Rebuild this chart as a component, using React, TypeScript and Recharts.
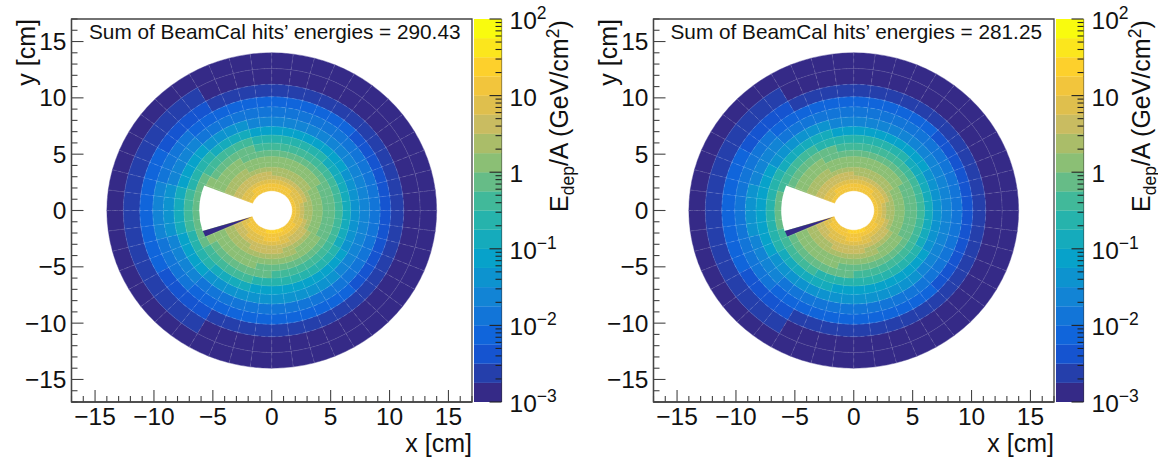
import React from 'react';
import { ScatterChart, Scatter, XAxis, YAxis, ReferenceArea } from 'recharts';

const PLOT_W = 400.5;
const PLOT_H = 383;
const BAR_W = 27.5;
const kx = PLOT_W / 34;
const ky = PLOT_H / 34;
const FONT = '"Liberation Sans", Arial, sans-serif';
const INK = '#111';
const FRAME = '#444';

// Ring edges of the calorimeter, in cm, outer to inner
const ringEdges = [14, 12.6, 11.2, 10.1, 9.2, 8.3, 7.45, 6.7, 6.0, 5.35, 4.8, 4.3, 3.85, 3.45, 3.1, 2.75, 2.4, 2.05, 1.75];

// Colour band for each ring (rows) and each 15 degree sector (columns)
const leftBands = [
  [0,0,0,0,0,0,0,0,0,0,0,0,0,0,0,0,0,0,0,0,0,0,0,0],
  [0,0,0,0,0,0,0,0,1,1,1,1,1,1,1,1,0,0,0,0,0,0,0,0],
  [1,1,1,1,1,1,1,1,2,2,3,3,3,3,2,2,1,1,1,1,1,1,1,1],
  [2,2,2,3,3,3,3,3,3,4,4,5,5,4,4,3,3,3,3,3,3,2,2,2],
  [4,4,4,4,4,4,4,4,4,5,5,6,6,5,5,4,4,4,4,4,4,4,4,4],
  [5,5,5,5,5,5,5,6,6,7,7,8,8,7,7,6,6,6,6,6,6,5,5,5],
  [6,6,7,7,7,7,7,8,8,9,9,10,10,9,9,8,8,7,7,7,7,7,6,6],
  [8,8,8,9,9,9,9,10,10,10,11,11,11,11,10,10,10,9,9,9,9,9,8,8],
  [10,10,10,10,10,10,10,11,11,11,12,12,12,12,11,11,11,11,10,10,10,10,10,10],
  [11,11,11,11,11,11,11,11,12,12,12,12,12,12,12,12,12,11,11,11,11,11,11,11],
  [11,11,12,12,12,12,12,12,12,12,12,12,12,12,12,12,12,12,12,12,12,12,11,11],
  [12,12,12,12,12,12,12,12,13,13,13,13,13,13,13,13,13,13,13,13,12,12,12,12],
  [12,12,13,13,13,13,13,13,13,13,13,13,13,13,13,13,14,14,14,13,13,13,12,12],
  [13,13,13,13,13,13,14,14,14,14,14,14,14,14,14,14,14,14,14,14,14,14,13,13],
  [13,14,14,14,14,14,14,14,14,14,14,14,14,14,14,15,15,15,15,15,14,14,14,13],
  [14,15,15,15,15,15,15,15,15,15,15,15,15,15,15,15,15,16,16,15,15,15,15,14],
  [15,15,15,16,16,16,16,16,16,15,15,15,15,15,16,16,16,16,16,16,16,16,15,15],
  [16,16,16,16,16,16,16,16,16,16,16,16,16,16,16,16,16,17,17,17,16,16,16,16],
];
const rightBands = [
  [0,0,0,0,0,0,0,0,0,0,0,0,0,0,0,0,0,0,0,0,0,0,0,0],
  [0,0,0,0,0,0,0,0,1,1,1,1,1,1,1,1,0,0,0,0,0,0,0,0],
  [1,1,1,1,1,1,1,1,2,2,3,3,3,3,2,2,1,1,1,1,1,1,1,1],
  [2,2,2,3,3,3,3,3,3,4,4,4,4,4,4,3,3,3,3,3,3,2,2,2],
  [4,4,4,4,4,4,4,4,4,5,5,6,6,5,5,4,4,4,4,4,4,4,4,4],
  [5,5,5,5,5,5,5,6,6,6,7,7,7,7,6,6,6,6,6,6,6,5,5,5],
  [6,6,7,7,7,7,7,8,8,8,9,9,9,9,8,8,8,7,7,7,7,7,6,6],
  [8,8,8,9,9,9,9,9,10,10,10,11,11,10,10,10,9,9,9,9,9,9,8,8],
  [10,10,10,10,10,10,10,11,11,11,11,12,12,11,11,11,11,11,10,10,10,10,10,10],
  [11,11,11,11,11,11,11,11,12,12,12,12,12,12,12,12,12,11,11,11,11,11,11,11],
  [11,11,12,12,12,12,12,12,12,12,12,12,12,12,12,12,12,12,12,12,12,12,11,11],
  [12,12,12,12,12,12,12,12,13,13,13,13,13,13,13,13,13,13,13,13,12,12,12,12],
  [12,12,13,13,13,13,13,13,13,13,13,13,13,13,13,13,14,14,14,13,13,13,12,12],
  [13,13,13,13,13,13,14,14,14,14,14,14,14,14,14,14,14,14,14,14,14,14,13,13],
  [13,14,14,14,14,14,14,14,14,14,14,14,14,14,14,15,15,15,15,15,14,14,14,13],
  [14,15,15,15,15,15,15,15,15,15,15,15,15,15,15,15,15,16,16,15,15,15,15,14],
  [15,15,15,16,16,16,16,16,16,15,15,15,15,15,16,16,16,16,16,16,16,16,15,15],
  [16,16,16,16,16,16,16,16,16,16,16,16,16,16,16,16,16,17,17,17,16,16,16,16],
];

const palette = ['#352a87','#253fab','#1554d0','#1065db','#1275d8','#1284d5','#0d93cf','#07a2ca','#15abbc','#26b3ac','#41b99a','#66bc87','#8bbf75','#aabd69','#c9bc61','#dfbf4d','#f2c53c','#fdd02c','#fbe61d','#f9fb0e'];
// Centre value of each colour-bar band, bottom to top
const zBandCenters = [0.00133, 0.00237, 0.00422, 0.0075, 0.0133, 0.0237, 0.0422, 0.075, 0.133, 0.237, 0.422, 0.75, 1.33, 2.37, 4.22, 7.5, 13.3, 23.7, 42.2, 75];

const axisTicks = [-17,-16,-15,-14,-13,-12,-11,-10,-9,-8,-7,-6,-5,-4,-3,-2,-1,0,1,2,3,4,5,6,7,8,9,10,11,12,13,14,15,16,17];
const zTicks = [0.001,0.002,0.003,0.004,0.005,0.006,0.007,0.008,0.009,0.01,0.02,0.03,0.04,0.05,0.06,0.07,0.08,0.09,0.1,0.2,0.3,0.4,0.5,0.6,0.7,0.8,0.9,1,2,3,4,5,6,7,8,9,10,20,30,40,50,60,70,80,90,100];
const zDecades: Record<string, string | null> = { '0.001': '\u22123', '0.01': '\u22122', '0.1': '\u22121', '1': null, '10': null, '100': '2' };

// Dead wedge and the dark sliver beneath it
const wedge = { r0: 0, r1: 6.15, a0: 158.9, a1: 197.2 };
const sliverX = [-1.72, -5.85, -5.64];
const sliverY = [-0.57, -1.81, -2.3];

const SECTOR_DEG = 15;
const SUBCELLS = [0, 1];

const polar = (r: number, deg: number) => ({ x: r * Math.cos((deg * Math.PI) / 180), y: r * Math.sin((deg * Math.PI) / 180) });

function makeCells(bands: number[][]) {
  const out: any[] = [];
  bands.forEach((row, ri) => {
    row.forEach((band, si) => {
      SUBCELLS.forEach((sub) => {
        const a0 = si * SECTOR_DEG + (sub * SECTOR_DEG) / 2;
        const a1 = a0 + SECTOR_DEG / 2;
        const r1 = ringEdges[ri];
        const r0 = ringEdges[ri + 1];
        const c = polar((r0 + r1) / 2, (a0 + a1) / 2);
        out.push({ x: c.x, y: c.y, r0, r1, a0, a1, band });
      });
    });
  });
  return out;
}

function sectorPath(d: any, cx: number, cy: number) {
  const ox = cx - d.x * kx;
  const oy = cy + d.y * ky;
  const p = (r: number, a: number) => {
    const q = polar(r, a);
    return `${(ox + q.x * kx).toFixed(2)} ${(oy - q.y * ky).toFixed(2)}`;
  };
  const outer = `M${p(d.r1, d.a0)} A${d.r1 * kx} ${d.r1 * ky} 0 0 0 ${p(d.r1, d.a1)}`;
  const inner = d.r0 > 0 ? `L${p(d.r0, d.a1)} A${d.r0 * kx} ${d.r0 * ky} 0 0 1 ${p(d.r0, d.a0)}` : `L${ox} ${oy}`;
  return `${outer} ${inner} Z`;
}

const CellShape = (props: any) => {
  const { cx, cy, payload } = props;
  const path = sectorPath(payload, cx, cy);
  const fill = palette[payload.band];
  return <path d={path} fill={fill} stroke={fill} strokeWidth={0.4} />;
};
const CellGrid = (props: any) => {
  const { cx, cy, payload } = props;
  const outerWeight = payload.r0 > 7 ? 0.16 : payload.r0 > 4.5 ? 0.1 : 0.05;
  return (
    <path d={sectorPath(payload, cx, cy)} fill="none" stroke="#ffffff" strokeOpacity={outerWeight} strokeWidth={0.6} strokeDasharray="4 3" />
  );
};
const WedgeShape = (props: any) => {
  const { cx, cy, payload } = props;
  return <path d={sectorPath(payload, cx, cy)} fill="#ffffff" />;
};
const SliverShape = (props: any) => {
  const { cx, cy, payload } = props;
  const pts = payload.xs.map((v: number, i: number) => {
    const px = cx + (v - payload.x) * kx;
    const py = cy - (payload.ys[i] - payload.y) * ky;
    return `${px},${py}`;
  });
  return <polygon points={pts.join(' ')} fill={palette[0]} />;
};
const BandShape = (props: any) => {
  const { cx, cy, payload } = props;
  const h = PLOT_H / zBandCenters.length;
  return <rect x={cx - BAR_W / 2} y={cy - h / 2} width={BAR_W} height={h} fill={palette[payload.band]} stroke={palette[payload.band]} strokeWidth={0.2} />;
};

const XTick = ({ x, y, payload }: any) => {
  const v = payload.value;
  const major = v % 5 === 0;
  return (
    <g>
      <line x1={x} x2={x} y1={y} y2={y - (major ? 12 : 6)} stroke={FRAME} strokeWidth={1.1} />
      {major ? (
        <text x={x} y={y + 23} textAnchor="middle" fontFamily={FONT} fontSize={24.5} fill={INK}>
          {v < 0 ? `\u2212${-v}` : v}
        </text>
      ) : null}
    </g>
  );
};
const YTick = ({ x, y, payload }: any) => {
  const v = payload.value;
  const major = v % 5 === 0;
  return (
    <g>
      <line x1={x} x2={x + (major ? 12 : 6)} y1={y} y2={y} stroke={FRAME} strokeWidth={1.1} />
      {major ? (
        <text x={x - 5} y={y + 8.5} textAnchor="end" fontFamily={FONT} fontSize={24.5} fill={INK}>
          {v < 0 ? `\u2212${-v}` : v}
        </text>
      ) : null}
    </g>
  );
};
const ZTick = ({ x, y, payload }: any) => {
  const key = String(payload.value);
  const major = key in zDecades;
  const sup = zDecades[key];
  const plain = payload.value === 1 ? '1' : '10';
  return (
    <g>
      <line x1={x} x2={x - (major ? 12 : 6)} y1={y} y2={y} stroke="#222" strokeWidth={1.1} />
      {major ? (
        <text x={x + 8} y={y + 10} fontFamily={FONT} fontSize={24.5} fill={INK}>
          {plain}
          {sup ? (
            <tspan dy={-10} fontSize={17.5}>
              {sup}
            </tspan>
          ) : null}
        </text>
      ) : null}
    </g>
  );
};

const XTitle = () => (
  <text x={472} y={452} textAnchor="end" fontFamily={FONT} fontSize={25} fill={INK}>
    x [cm]
  </text>
);
const YTitle = () => (
  <text transform="translate(35,19) rotate(-90)" textAnchor="end" fontFamily={FONT} fontSize={25} fill={INK}>
    y [cm]
  </text>
);
const ZTitle = () => (
  <text transform="translate(94,212) rotate(-90)" fontFamily={FONT} fontSize={25} fill={INK}>
    E
    <tspan dy={6} fontSize={17.5}>dep</tspan>
    <tspan dy={-6}>/A (GeV/cm</tspan>
    <tspan dy={-9} fontSize={17.5}>2</tspan>
    <tspan dy={9}>)</tspan>
  </text>
);

function Panel({ left, bands, title }: { left: number; bands: number[][]; title: string }) {
  const cells = makeCells(bands);
  const mid = polar((wedge.r0 + wedge.r1) / 2, (wedge.a0 + wedge.a1) / 2);
  const wedgeData = [{ ...wedge, x: mid.x, y: mid.y }];
  const sliverData = [{ x: sliverX[0], y: sliverY[0], xs: sliverX, ys: sliverY }];
  const bandData = zBandCenters.map((z, band) => ({ x: 0.5, z, band }));
  return (
    <>
      <div style={{ position: 'absolute', left, top: 0, width: 473, height: 459 }}>
        <ScatterChart width={473} height={459} margin={{ top: 19, right: 1, bottom: 0, left: 0 }}>
          <XAxis
            type="number"
            dataKey="x"
            domain={[-17, 17]}
            ticks={axisTicks}
            interval={0}
            tick={XTick}
            tickLine={false}
            tickSize={0}
            tickMargin={0}
            height={57}
            stroke={FRAME}
            strokeWidth={1.3}
            label={{ content: XTitle }}
          />
          <YAxis
            type="number"
            dataKey="y"
            domain={[-17, 17]}
            ticks={axisTicks}
            interval={0}
            tick={YTick}
            tickLine={false}
            tickSize={0}
            tickMargin={0}
            width={71.5}
            stroke={FRAME}
            strokeWidth={1.3}
            label={{ content: YTitle }}
          />
          <Scatter data={cells} shape={CellShape} isAnimationActive={false} />
          <Scatter data={cells} shape={CellGrid} isAnimationActive={false} />
          <Scatter data={wedgeData} shape={WedgeShape} isAnimationActive={false} />
          <Scatter data={sliverData} shape={SliverShape} isAnimationActive={false} />
          <ReferenceArea x1={-17} x2={17} y1={-17} y2={17} fill="none" stroke={FRAME} strokeWidth={1.3} ifOverflow="visible" />
        </ScatterChart>
        <div style={{ position: 'absolute', left: 89, top: 20, fontFamily: FONT, fontSize: 20.77, lineHeight: '24px', color: INK, whiteSpace: 'nowrap' }}>
          {title}
        </div>
      </div>
      <div style={{ position: 'absolute', left: left + 474, top: 0, width: 140, height: 459 }}>
        <ScatterChart width={140} height={459} margin={{ top: 19, right: 0, bottom: 57, left: 0 }}>
          <XAxis type="number" dataKey="x" domain={[0, 1]} hide />
          <YAxis
            type="number"
            dataKey="z"
            orientation="right"
            scale="log"
            domain={[0.001, 100]}
            allowDataOverflow
            ticks={zTicks}
            interval={0}
            tick={ZTick}
            tickLine={false}
            tickSize={0}
            tickMargin={0}
            width={112.5}
            stroke="#333"
            strokeWidth={1.2}
            label={{ content: ZTitle }}
          />
          <Scatter data={bandData} shape={BandShape} isAnimationActive={false} />
        </ScatterChart>
      </div>
    </>
  );
}

export default function App() {
  return (
    <div style={{ position: 'absolute', left: 0, top: 0, width: 1158, height: 459, background: '#fff', overflow: 'hidden' }}>
      <Panel left={0} bands={leftBands} title="Sum of BeamCal hits’ energies = 290.43" />
      <Panel left={581.5} bands={rightBands} title="Sum of BeamCal hits’ energies = 281.25" />
    </div>
  );
}
